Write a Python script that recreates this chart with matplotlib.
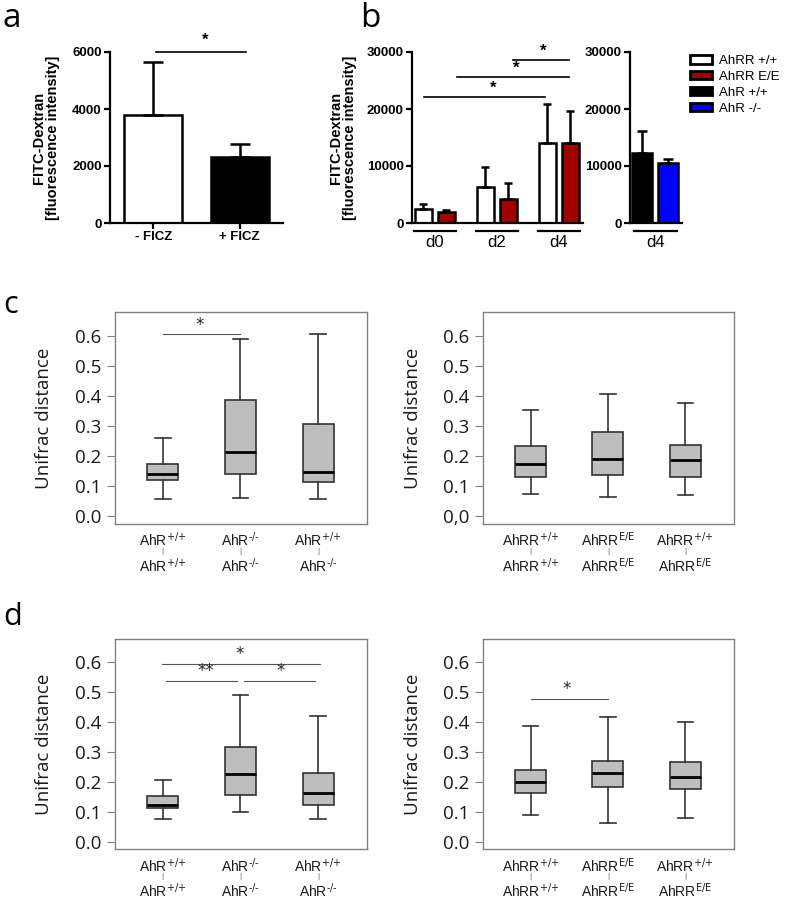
import matplotlib.pyplot as plt
import numpy as np
from matplotlib.patches import Patch

plt.rcParams["mathtext.default"] = "regular"

# ---- data ----
a_labels = ["- FICZ", "+ FICZ"]
a_mean = [3800, 2330]
a_sd = [1850, 440]
a_yticks = [0, 2000, 4000, 6000]

b_days = ["d0", "d2", "d4"]
b_ahrr_wt = [2400, 6260, 14090]
b_ahrr_wt_sd = [900, 3620, 6730]
b_ahrr_ee = [1880, 4150, 14090]
b_ahrr_ee_sd = [450, 2810, 5510]
b_ahr_day = "d4"
b_ahr = [12230, 10470]
b_ahr_sd = [3910, 760]
b_yticks = [0, 10000, 20000, 30000]
legend_labels = ["AhRR +/+", "AhRR E/E", "AhR +/+", "AhR -/-"]

# (upper, lower) genotype of each pairwise comparison
WT = "$^{\\text{+/+}}$"
KO = "$^{\\text{-/-}}$"
EE = "$^{\\text{E/E}}$"
ahr_pairs = [("AhR" + WT, "AhR" + WT),
             ("AhR" + KO, "AhR" + KO),
             ("AhR" + WT, "AhR" + KO)]
ahrr_pairs = [("AhRR" + WT, "AhRR" + WT),
              ("AhRR" + EE, "AhRR" + EE),
              ("AhRR" + WT, "AhRR" + EE)]
box_yticks = [0.0, 0.1, 0.2, 0.3, 0.4, 0.5, 0.6]
box_ylabels = ["0.0", "0.1", "0.2", "0.3", "0.4", "0.5", "0.6"]
box_ylabels_comma = ["0,0", "0.1", "0.2", "0.3", "0.4", "0.5", "0.6"]

# whislo, q1, med, q3, whishi
c_ahr = [[0.057, 0.120, 0.140, 0.173, 0.260],
         [0.060, 0.140, 0.212, 0.387, 0.590],
         [0.057, 0.113, 0.147, 0.306, 0.607]]
c_ahrr = [[0.073, 0.130, 0.173, 0.232, 0.352],
          [0.062, 0.135, 0.190, 0.280, 0.405],
          [0.070, 0.130, 0.188, 0.238, 0.378]]
d_ahr = [[0.078, 0.113, 0.124, 0.153, 0.208],
         [0.100, 0.157, 0.228, 0.317, 0.492],
         [0.078, 0.123, 0.163, 0.230, 0.420]]
d_ahrr = [[0.090, 0.165, 0.200, 0.240, 0.387],
          [0.065, 0.185, 0.230, 0.270, 0.417],
          [0.080, 0.177, 0.217, 0.268, 0.400]]

W, H = 787, 899
fig = plt.figure(figsize=(W / 100, H / 100), dpi=100)


def px_axes(left, top, right, bottom):
    return fig.add_axes([left / W, 1 - bottom / H, (right - left) / W, (bottom - top) / H])


def style_bar_axes(ax, yticks):
    for s in ["top", "right"]:
        ax.spines[s].set_visible(False)
    for s in ["left", "bottom"]:
        ax.spines[s].set_linewidth(1.6)
    ax.set_ylim(yticks[0], yticks[-1])
    ax.set_yticks(yticks, labels=[str(t) for t in yticks],
                  fontweight="bold", fontsize=9.5, family="Liberation Sans")
    ax.tick_params(width=1.6, length=4, pad=2)


bold = dict(family="Liberation Sans", fontweight="bold")
ylab_bar = "FITC-Dextran\n[fluorescence intensity]"

# ---- panel a ----
ax = px_axes(110, 52, 283, 223)
xa = np.arange(len(a_mean))
ax.bar(xa, a_mean, width=0.67, color=["white", "black"], edgecolor="black", lw=1.8)
ax.errorbar(xa, a_mean, yerr=[np.zeros(len(a_sd)), a_sd], fmt="none",
            ecolor="black", elinewidth=1.8, capsize=7.5, capthick=1.8)
style_bar_axes(ax, a_yticks)
ax.set_xlim(-0.5, 1.5)
ax.set_xticks(xa, labels=a_labels, fontsize=9.5, **bold)
ax.set_ylabel(ylab_bar, fontsize=10.5, linespacing=1.0, **bold)
ax.yaxis.set_label_coords(-0.29, 0.5)
ax.plot([0.03, 1.07], [6000, 6000], color="black", lw=1.2, clip_on=False)
ax.text(0.6, 6150, "*", ha="center", va="bottom", fontsize=12, **bold)

# ---- panel b (AhRR time course) ----
ax = px_axes(412, 52, 583, 223)
xb = np.arange(len(b_days))
ax.bar(xb - 0.185, b_ahrr_wt, width=0.27, color="white", edgecolor="black", lw=1.8)
ax.bar(xb + 0.185, b_ahrr_ee, width=0.27, color="#a00000", edgecolor="black", lw=1.8)
ax.errorbar(xb - 0.185, b_ahrr_wt, yerr=[np.zeros(3), b_ahrr_wt_sd], fmt="none",
            ecolor="black", elinewidth=1.8, capsize=3, capthick=1.8)
ax.errorbar(xb + 0.185, b_ahrr_ee, yerr=[np.zeros(3), b_ahrr_ee_sd], fmt="none",
            ecolor="black", elinewidth=1.8, capsize=3, capthick=1.8)
style_bar_axes(ax, b_yticks)
ax.set_xlim(-0.37, 2.39)
ax.set_xticks([])
ax.set_ylabel(ylab_bar, fontsize=10.5, linespacing=1.0, **bold)
ax.yaxis.set_label_coords(-0.32, 0.5)
trans = ax.get_xaxis_transform()
for i, day in enumerate(b_days):
    ax.plot([i - 0.34, i + 0.34], [-0.047, -0.047], color="black", lw=1.6,
            transform=trans, clip_on=False)
    ax.text(i, -0.07, day, ha="center", va="top", fontsize=12,
            family="Liberation Sans", transform=trans)
# significance bars
for x0, x1, y, xs in [(-0.18, 1.77, 22100, 0.94), (0.35, 2.16, 25600, 1.31),
                      (1.26, 2.16, 28600, 1.74)]:
    ax.plot([x0, x1], [y, y], color="black", lw=1.2, clip_on=False)
    ax.text(xs, y + 300, "*", ha="center", va="bottom", fontsize=12, **bold)

# ---- panel b (AhR d4) ----
ax = px_axes(630, 52, 682, 223)
xr = np.arange(len(b_ahr))
ax.bar(xr, b_ahr, width=0.77, color=["black", "#0000ff"], edgecolor="black", lw=1.8)
ax.errorbar(xr, b_ahr, yerr=[np.zeros(2), b_ahr_sd], fmt="none",
            ecolor="black", elinewidth=1.8, capsize=3.5, capthick=1.8)
style_bar_axes(ax, b_yticks)
ax.set_xlim(-0.48, 1.52)
ax.set_xticks([])
trans = ax.get_xaxis_transform()
ax.plot([-0.33, 1.33], [-0.047, -0.047], color="black", lw=1.6,
        transform=trans, clip_on=False)
ax.text(0.5, -0.07, b_ahr_day, ha="center", va="top", fontsize=12,
        family="Liberation Sans", transform=trans)

handles = [Patch(facecolor=c, edgecolor="black", lw=2)
           for c in ["white", "#a00000", "black", "#0000ff"]]
fig.legend(handles, legend_labels, loc="upper left", bbox_to_anchor=(690 / W, 1 - 55 / H),
           frameon=False, prop=dict(family="Liberation Sans", size=9.5),
           handlelength=1.7, handleheight=0.6, labelspacing=0.3, handletextpad=0.5,
           borderpad=0, borderaxespad=0)


# ---- box plots ----
def box_panel(rect, rows, pairs, ylabels, ylim, rows_y):
    ax = px_axes(*rect)
    stats = [dict(whislo=r[0], q1=r[1], med=r[2], q3=r[3], whishi=r[4], fliers=[])
             for r in rows]
    ax.bxp(stats, positions=[1, 2, 3], widths=0.4, patch_artist=True,
           boxprops=dict(facecolor="#bebebe", edgecolor="#333333", lw=1.2),
           medianprops=dict(color="black", lw=2),
           whiskerprops=dict(color="#333333", lw=1.2),
           capprops=dict(color="#333333", lw=1.2))
    ax.set_xlim(0.385, 3.63)
    ax.set_ylim(*ylim)
    for s in ax.spines.values():
        s.set_color("#808080")
        s.set_linewidth(1.0)
    ax.set_yticks(box_yticks, labels=ylabels, fontsize=13.5, family="Open Sans")
    ax.tick_params(axis="y", color="#808080", length=6, pad=4, labelcolor="#1a1a1a")
    ax.set_xticks([1, 2, 3], labels=[])
    ax.tick_params(axis="x", length=0)
    trans = ax.get_xaxis_transform()
    for x, (upper, lower) in zip([1, 2, 3], pairs):
        ax.text(x, rows_y[0], upper, ha="center", va="center", fontsize=10,
                family="Liberation Sans", color="#1a1a1a", transform=trans)
        ax.text(x, rows_y[1], "|", ha="center", va="center", fontsize=6,
                family="Liberation Sans", color="#555555", transform=trans)
        ax.text(x, rows_y[2], lower, ha="center", va="center", fontsize=10,
                family="Liberation Sans", color="#1a1a1a", transform=trans)
    ax.set_ylabel("Unifrac distance", fontsize=13.5, family="Open Sans", color="#1a1a1a")
    ax.yaxis.set_label_coords(-0.245, 0.5)
    return ax


def sig(ax, x0, x1, y, xs, label):
    ax.plot([x0, x1], [y, y], color="#555555", lw=0.8)
    ax.text(xs, y + 0.003, label, ha="center", va="bottom", fontsize=12, color="#222222")


c_rows = (-0.072, -0.13, -0.195)
d_rows = (-0.08, -0.133, -0.198)
ax = box_panel((115, 312, 367, 524), c_ahr, ahr_pairs, box_ylabels, (-0.027, 0.68), c_rows)
sig(ax, 1.0, 2.0, 0.605, 1.47, "*")
box_panel((483, 312, 734, 524), c_ahrr, ahrr_pairs, box_ylabels_comma, (-0.027, 0.68), c_rows)
ax = box_panel((115, 639, 367, 849), d_ahr, ahr_pairs, box_ylabels, (-0.023, 0.677), d_rows)
sig(ax, 0.99, 3.03, 0.593, 1.99, "*")
sig(ax, 1.04, 1.96, 0.537, 1.55, "**")
sig(ax, 2.04, 2.96, 0.537, 2.52, "*")
ax = box_panel((483, 639, 734, 849), d_ahrr, ahrr_pairs, box_ylabels, (-0.023, 0.677), d_rows)
sig(ax, 1.0, 2.0, 0.477, 1.46, "*")

# ---- panel letters ----
for x, y, letter, size in [(2, 27, "a", 24), (360, 27, "b", 24),
                           (3, 313, "c", 22), (3, 625, "d", 22)]:
    fig.text(x / W, 1 - y / H, letter, fontsize=size, family="Open Sans",
             ha="left", va="baseline")

fig.savefig("out.png", dpi=100)
